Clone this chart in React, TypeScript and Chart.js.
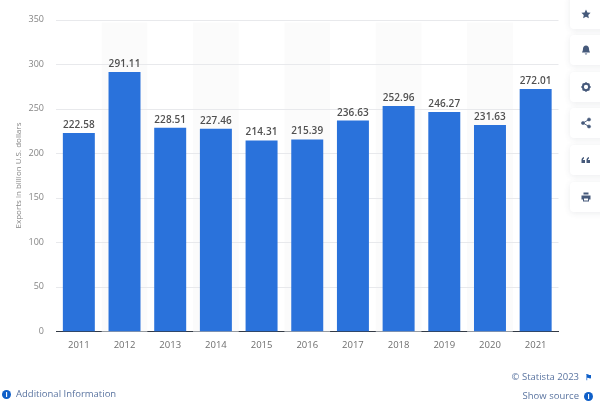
import React, { useEffect, useRef } from "react";
import { Chart, registerables } from "chart.js";

Chart.register(...registerables);

const years = ["2011", "2012", "2013", "2014", "2015", "2016", "2017", "2018", "2019", "2020", "2021"];
const exportsValues = [222.58, 291.11, 228.51, 227.46, 214.31, 215.39, 236.63, 252.96, 246.27, 231.63, 272.01];
const yTicks = [0, 50, 100, 150, 200, 250, 300, 350];
const axisTitle = "Exports in billion U.S. dollars";
const FONT = '"Open Sans", sans-serif';

const bandsPlugin = {
  id: "bands",
  beforeDatasetsDraw(chart: any) {
    const { ctx, chartArea, scales } = chart;
    const x = scales.x;
    const step = x.getPixelForValue(1) - x.getPixelForValue(0);
    ctx.save();
    ctx.fillStyle = "#fbfbfb";
    years.forEach((_, i) => {
      if (i % 2 === 1) {
        ctx.fillRect(x.getPixelForValue(i) - step / 2, chartArea.top + 3, step, chartArea.bottom - chartArea.top - 3);
      }
    });
    ctx.restore();
    ctx.save();
    ctx.strokeStyle = "#e8e9ec";
    ctx.lineWidth = 1;
    scales.y.ticks.forEach((t: any) => {
      if (t.value === 0) return;
      const py = Math.round(scales.y.getPixelForValue(t.value)) + 0.5;
      ctx.beginPath();
      ctx.moveTo(chartArea.left, py);
      ctx.lineTo(chartArea.right, py);
      ctx.stroke();
    });
    ctx.restore();
  },
};

const labelsPlugin = {
  id: "valueLabels",
  afterDatasetsDraw(chart: any) {
    const { ctx } = chart;
    const meta = chart.getDatasetMeta(0);
    ctx.save();
    ctx.font = `600 10px ${FONT}`;
    (ctx as any).letterSpacing = "0.1px";
    ctx.fillStyle = "#505050";
    ctx.textAlign = "center";
    ctx.textBaseline = "alphabetic";
    meta.data.forEach((bar: any, i: number) => {
      ctx.fillText(exportsValues[i].toFixed(2), bar.x, bar.y - 5);
    });
    ctx.restore();
  },
};

const iconColor = "#45597a";
const icons: React.ReactNode[] = [
  <path d="M12 3l2.800 5.900 6.400.8-4.700 4.400 1.200 6.400L12 17.400l-5.700 3.100 1.200-6.400L2.800 9.700l6.400-.8z" fill={iconColor} />,
  <path d="M12 3c-3.600 0-6 2.800-6 6.500 0 4.500-2 6-2 7.500h16c0-1.500-2-3-2-7.500C18 5.800 15.600 3 12 3zM9.500 19a2.500 2 0 0 0 5 0z" fill={iconColor} />,
  <g>
    <circle cx="12" cy="12" r="6.300" fill="none" stroke={iconColor} strokeWidth="4" />
    <path d="M12 2.500v3M12 18.500v3M2.500 12h3M18.500 12h3M5.300 5.300l2 2M16.700 16.700l2 2M18.700 5.300l-2 2M7.300 16.700l-2 2" stroke={iconColor} strokeWidth="3" />
  </g>,
  <g fill={iconColor} stroke={iconColor}>
    <circle cx="18" cy="5" r="3.200" />
    <circle cx="6" cy="12" r="3.200" />
    <circle cx="18" cy="19" r="3.200" />
    <path d="M18 5L6 12l12 7" fill="none" strokeWidth="1.800" />
  </g>,
  <path d="M3 18v-6c0-3 1.500-5 5-6v3c-1.500.5-2 1.200-2 3h4v6zM13 18v-6c0-3 1.500-5 5-6v3c-1.500.5-2 1.200-2 3h4v6z" fill={iconColor} />,
  <path d="M7 3h10v4H7zM3 9h18v8h-3v4H6v-4H3zM8 15v4h8v-4z" fill={iconColor} fillRule="evenodd" />,
];
const iconCenters = [13.5, 50, 86.5, 123, 160, 196.5];

const InfoDot = ({ left, top }: { left: number; top: number }) => (
  <div
    style={{
      position: "absolute",
      left,
      top,
      width: 9,
      height: 9,
      borderRadius: "50%",
      background: "#0f5fc8",
      color: "#fff",
      font: `700 7px/9px ${FONT}`,
      textAlign: "center",
    }}
  >
    i
  </div>
);

export default function App() {
  const ref = useRef<HTMLCanvasElement>(null);
  useEffect(() => {
    const chart = new Chart(ref.current!, {
      type: "bar",
      data: {
        labels: years,
        datasets: [
          {
            data: exportsValues,
            backgroundColor: "#2a72db",
            categoryPercentage: 0.7,
            barPercentage: 1,
          },
        ],
      },
      options: {
        animation: false,
        responsive: false,
        devicePixelRatio: 1,
        layout: { padding: { top: 19.5, right: 41.5, bottom: 0, left: 14 } },
        plugins: { legend: { display: false }, tooltip: { enabled: false } },
        scales: {
          x: {
            afterFit: (s: any) => {
              s.height = 77.5;
            },
            grid: { display: false },
            border: { color: "#333a45", width: 1 },
            ticks: {
              color: "#6e6e6e",
              font: { family: FONT, size: 9.5 },
              padding: 0,
              maxRotation: 0,
            },
          },
          y: {
            min: 0,
            max: 350,
            afterFit: (s: any) => {
              s.width = 42;
            },
            afterBuildTicks: (s: any) => {
              s.ticks = yTicks.map((value) => ({ value }));
            },
            grid: { display: false },
            border: { display: false },
            title: {
              display: true,
              text: axisTitle,
              color: "#858585",
              font: { family: FONT, size: 8 },
              padding: { top: 0, bottom: 0 },
            },
            ticks: {
              color: "#858585",
              font: { family: FONT, size: 9 },
              padding: 4,
            },
          },
        },
      },
      plugins: [bandsPlugin, labelsPlugin],
    } as any);
    return () => chart.destroy();
  }, []);

  const textColor = "#5a74a0";
  return (
    <div style={{ position: "absolute", left: 0, top: 0, width: 600, height: 409, background: "#fff", overflow: "hidden" }}>
      <canvas ref={ref} width={600} height={409} style={{ position: "absolute", left: 0, top: 0, width: 600, height: 409 }} />
      {icons.map((icon, i) => (
        <div
          key={i}
          style={{
            position: "absolute",
            left: 570,
            top: i === 0 ? -5 : iconCenters[i] - 15,
            width: 40,
            height: i === 0 ? 33.5 : 30,
            background: "#fff",
            borderRadius: 4,
            boxShadow: "0 1px 6px rgba(60,70,90,0.10)",
          }}
        >
          <svg width="12" height="12" viewBox="0 0 24 24" style={{ position: "absolute", left: 10, top: i === 0 ? 12.500 : 9 }}>
            {icon}
          </svg>
        </div>
      ))}
      <InfoDot left={2} top={389.5} />
      <div style={{ position: "absolute", left: 16, top: 387, font: `400 9.500px/14px ${FONT}`, color: textColor }}>
        Additional Information
      </div>
      <div style={{ position: "absolute", right: 21, top: 370, font: `400 9.500px/14px ${FONT}`, color: textColor }}>
        © Statista 2023
      </div>
      <div style={{ position: "absolute", left: 585, top: 373, width: 7, height: 8, color: "#0f5fc8", font: `700 8px/8px ${FONT}` }}>⚑</div>
      <div style={{ position: "absolute", right: 21, top: 389, font: `400 9.500px/14px ${FONT}`, color: textColor }}>
        Show source
      </div>
      <InfoDot left={584} top={391.5} />
    </div>
  );
}
